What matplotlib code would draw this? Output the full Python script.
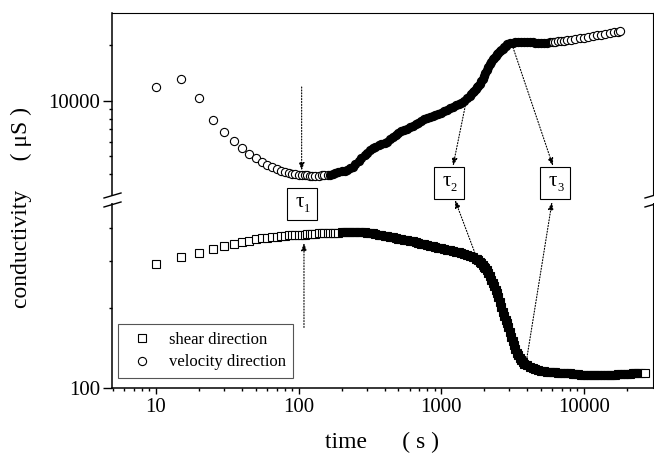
import matplotlib
matplotlib.use("Agg")
import numpy as np
import matplotlib.pyplot as plt
from matplotlib.patches import Rectangle, FancyArrowPatch
from matplotlib.lines import Line2D

plt.rcParams['font.family'] = ['Liberation Serif', 'DejaVu Serif']

# ---------------------------------------------------------------- data
# time in s, conductivity in uS
shear_t = [10, 15, 20, 25, 30, 35, 40, 45, 50, 55, 60, 65, 70, 75, 80, 85, 90, 95, 100,
           105, 110, 115, 120, 125, 130, 140, 145, 150, 160, 165, 175, 180, 190, 200, 210,
           220, 230, 240, 250, 265, 275, 290, 300, 315, 330, 345, 365, 380, 400, 415, 435,
           455, 480, 500, 525, 550, 575, 605, 630, 660, 690, 725, 760, 795, 830, 870, 910,
           955, 1000, 1050, 1100, 1150, 1200, 1260, 1320, 1380, 1450, 1510, 1580, 1660, 1740,
           1780, 1820, 1860, 1910, 1950, 2000, 2040, 2090, 2140, 2190, 2240, 2290, 2340, 2400,
           2450, 2510, 2570, 2630, 2690, 2750, 2820, 2880, 2950, 3020, 3090, 3160, 3240, 3310,
           3390, 3470, 3550, 3630, 3720, 3800, 3980, 4170, 4370, 4570, 4790, 5010, 5250, 5500,
           5750, 6030, 6310, 6610, 6920, 7240, 7590, 7940, 8320, 8710, 9120, 9550, 10000,
           10500, 11000, 11500, 12000, 12600, 13200, 13800, 14500, 15100, 15800, 16600, 17400,
           18200, 19100, 20000, 20900, 21900, 22900, 24000, 25100, 26700]
shear_v = [294, 310, 323, 334, 341, 349, 355, 359, 363, 366, 368, 369, 371, 373, 374, 375, 376, 377, 377,
           378, 378, 379, 379, 380, 381, 382, 383, 383, 384, 384, 384, 384, 384, 385, 385,
           386, 386, 386, 387, 386, 386, 385, 384, 383, 382, 380, 378, 376, 374, 372, 370,
           369, 367, 365, 363, 362, 360, 358, 356, 353, 351, 349, 347, 345, 343, 341, 339,
           337, 335, 333, 332, 330, 328, 326, 324, 322, 320, 317, 315, 312, 307,
           305, 302, 298, 295, 291, 286, 282, 277, 270, 263, 256, 249, 241, 234,
           227, 220, 211, 202, 194, 187, 181, 175, 169, 162, 156, 150, 145, 140,
           136, 133, 130, 127, 125, 123, 122, 120, 119, 118, 117, 116.3, 115.8, 115.3,
           114.9, 114.7, 114.5, 114.3, 114.1, 113.9, 113.7, 113.4, 113.1, 112.9, 112.6, 112.4, 112.3,
           112.2, 112.1, 112.0, 111.9, 111.9, 111.9, 112.0, 112.1, 112.2, 112.3, 112.4, 112.6,
           112.7, 112.9, 113.1, 113.3, 113.5, 113.6, 113.7, 113.8, 113.9]

velocity_t = [10, 15, 20, 25, 30, 35, 40, 45, 50, 55, 60, 65, 70, 75, 80, 85, 90, 95, 100,
              105, 110, 115, 120, 125, 130, 140, 145, 150, 160, 165, 175, 180, 190, 200, 210,
              220, 230, 240, 250, 265, 275, 290, 300, 315, 330, 345, 365, 380, 400, 415, 435,
              455, 480, 500, 525, 550, 575, 605, 630, 660, 690, 725, 760, 795, 830, 870, 910,
              955, 1000, 1050, 1100, 1150, 1200, 1260, 1320, 1380, 1450, 1510, 1580, 1620, 1660,
              1700, 1740, 1780, 1820, 1860, 1910, 1950, 2000, 2040, 2090, 2140, 2190, 2240, 2290,
              2340, 2400, 2450, 2510, 2570, 2630, 2690, 2750, 2820, 2880, 3020, 3160, 3310, 3470,
              3630, 3800, 3980, 4170, 4370, 4570, 4790, 5010, 5250, 5500, 5750, 6030, 6310, 6610,
              6920, 7240, 7590, 8130, 8710, 9330, 10000, 10700, 11500, 12300, 13200, 14100, 15100,
              16200, 17400, 17900]
velocity_v = [11900, 13150, 10380, 7890, 6800, 6080, 5570, 5170, 4920, 4680, 4510, 4400, 4290, 4180,
              4130, 4080, 4030, 4010, 3980,
              3970, 3960, 3950, 3930, 3930, 3930, 3930, 3940, 3950, 3970, 3980, 4030, 4070, 4110, 4150,
              4190, 4240, 4320, 4400, 4550, 4720, 4880, 5060, 5240, 5410, 5560, 5650, 5740, 5830, 5910,
              6010, 6190, 6370, 6540, 6710, 6850, 6950, 7060, 7180, 7310, 7470, 7630, 7800, 7940, 8040,
              8140, 8250, 8350, 8470, 8610, 8790, 8960, 9150, 9320, 9480, 9600, 9770, 9990, 10320,
              10660, 10890, 11130, 11360, 11600, 11850, 12110, 12430, 12760, 13220, 13700, 14230,
              14780, 15310, 15850, 16310, 16790, 17180, 17580, 17900, 18220, 18550, 18890, 19220,
              19560, 19920, 20280, 20560, 20710, 20790, 20840, 20840, 20840, 20840, 20840, 20790,
              20740, 20690, 20640, 20610, 20710, 20840, 20890, 20970, 21050, 21130, 21230, 21360,
              21470, 21720, 21880, 22070, 22290, 22490, 22710, 22910, 23050, 23280, 23520, 23750,
              23900]

x_ticks = [10, 100, 1000, 10000]
x_tick_labels = ['10', '100', '1000', '10000']
legend_labels = ['shear direction', 'velocity direction']

# ---------------------------------------------------------------- layout
W, H = 654, 457
fig = plt.figure(figsize=(W / 100, H / 100), dpi=100)
fig.patch.set_facecolor('white')


def fpos(x, y):
    """pixel position (from top-left) -> figure fraction"""
    return (x / W, 1 - y / H)


L, R, T, M, B = 112, 653, 13, 200, 388
ax_top = fig.add_axes([L / W, 1 - M / H, (R - L) / W, (M - T) / H])
ax_bot = fig.add_axes([L / W, 1 - B / H, (R - L) / W, (B - M) / H])
for ax in (ax_top, ax_bot):
    ax.set_xscale('log')
    ax.set_yscale('log')
    ax.set_facecolor('none')

MS, MEW = 5.9, 0.8


def draw_series(ax, t, v, marker, dense_from, dense_to):
    """Open markers where the samples are sparse; where the samples crowd
    together on the log axis the overlapping markers merge into a solid band."""
    t = np.asarray(t, float)
    v = np.asarray(v, float)
    dense = (t >= dense_from) & (t <= dense_to)
    head = t < dense_from
    tail = t > dense_to
    open_kw = dict(linestyle='none', marker=marker, ms=MS, mfc='white', mec='black', mew=MEW)
    h, = ax.plot(t[head], v[head], **open_kw)
    ax.plot(t[dense], v[dense], linestyle='none', marker=marker, ms=MS,
            mfc='black', mec='black', mew=MEW)
    ax.plot(t[tail], v[tail], **open_kw)
    return h


h_vel = draw_series(ax_top, velocity_t, velocity_v, 'o', 165, 5750)
h_shear = draw_series(ax_bot, shear_t, shear_v, 's', 200, 25100)

# ticks
ax_top.set_yticks([10000], ['10000'])
ax_top.set_yticks([4000, 5000, 6000, 7000, 8000, 9000, 20000], minor=True)
ax_top.yaxis.set_minor_formatter(plt.NullFormatter())
ax_bot.set_yticks([100], ['100'])
ax_bot.set_yticks([200, 300, 400], minor=True)
ax_bot.yaxis.set_minor_formatter(plt.NullFormatter())

x_minor = [5, 6, 7, 8, 9] + [m * d for d in (10, 100, 1000) for m in range(2, 10)] + [20000]
ax_bot.set_xticks(x_ticks, x_tick_labels)
ax_bot.set_xticks(x_minor, minor=True)
ax_bot.xaxis.set_minor_formatter(plt.NullFormatter())

for ax in (ax_top, ax_bot):
    ax.set_xlim(4.92, 30450)
    ax.spines['left'].set_linewidth(1.1)
    ax.spines['right'].set_linewidth(0.8)
    ax.spines['top'].set_linewidth(0.8)
    ax.spines['bottom'].set_linewidth(1.1)
    ax.tick_params(which='both', direction='out', top=False, right=False,
                   labelsize=15, width=1.0)
    ax.tick_params(axis='y', which='major', length=6.5, pad=2)
    ax.tick_params(axis='y', which='minor', length=2.2)

ax_top.set_ylim(2900, 30000)
ax_bot.set_ylim(100, 510)
ax_top.spines['bottom'].set_visible(False)
ax_bot.spines['top'].set_visible(False)
ax_top.tick_params(axis='x', which='both', bottom=False, labelbottom=False)
ax_bot.tick_params(axis='x', which='major', length=4.5, pad=3)
ax_bot.tick_params(axis='x', which='minor', length=2.5)

# legend
leg = ax_bot.legend([h_shear, h_vel], legend_labels, loc='lower left',
                    bbox_to_anchor=(6 / (R - L), 10 / (B - M)), borderaxespad=0,
                    fontsize=12, frameon=True, fancybox=False, framealpha=1,
                    edgecolor='#555555', handlelength=2.0, handletextpad=0.6,
                    borderpad=0.45, labelspacing=0.4)
leg.get_frame().set_linewidth(0.8)

# axis labels
fig.text(*fpos(382, 442), 'time      ( s )', ha='center', va='center', fontsize=17)
fig.text(*fpos(21, 207), 'conductivity     ( \u03bcS )', rotation=90,
         ha='center', va='center', fontsize=17)

# axis break marks on both vertical spines
for xs in (L, R):
    fig.add_artist(Rectangle(fpos(xs - 3, 203.5), 6 / W, 7 / H, transform=fig.transFigure,
                             facecolor='white', edgecolor='none', zorder=5))
    for yc in (195.5, 204.5):
        x0, y0 = fpos(xs - 8, yc + 2.5)
        x1, y1 = fpos(xs + 9, yc - 2.5)
        fig.add_artist(Line2D([x0, x1], [y0, y1], transform=fig.transFigure,
                              color='black', lw=1.0, zorder=6))

# tau boxes
for label, (bx0, by0) in (('1', (287, 188)), ('2', (434, 167)), ('3', (540, 167))):
    fig.add_artist(Rectangle(fpos(bx0, by0 + 32), 30 / W, 32 / H, transform=fig.transFigure,
                             facecolor='white', edgecolor='black', lw=0.8, zorder=4))
    fig.text(*fpos(bx0 + 13, by0 + 15), '\u03c4', ha='center', va='center', fontsize=15, zorder=6)
    fig.text(*fpos(bx0 + 20, by0 + 21), label, ha='center', va='center', fontsize=9, zorder=6)


def data_fig(ax, t, v):
    return fig.transFigure.inverted().transform(ax.transData.transform((t, v)))


arrow_kw = dict(transform=fig.transFigure, arrowstyle='-|>,head_length=4.5,head_width=1.6',
                color='black', lw=0.8, linestyle=(0, (1, 1.6)), shrinkA=0, shrinkB=0,
                zorder=7)
arrows = [
    (data_fig(ax_top, 105, 11900), data_fig(ax_top, 105, 4190)),
    (data_fig(ax_bot, 109, 169), data_fig(ax_bot, 109, 352)),
    (data_fig(ax_top, 1500, 10100), fpos(453, 166)),
    (data_fig(ax_bot, 1720, 322), fpos(455, 200)),
    (data_fig(ax_top, 3180, 19500), fpos(553, 166)),
    (data_fig(ax_bot, 3980, 130), fpos(552, 202)),
]
for a, b in arrows:
    fig.add_artist(FancyArrowPatch(a, b, **arrow_kw))

fig.savefig('out.png', dpi=100)
